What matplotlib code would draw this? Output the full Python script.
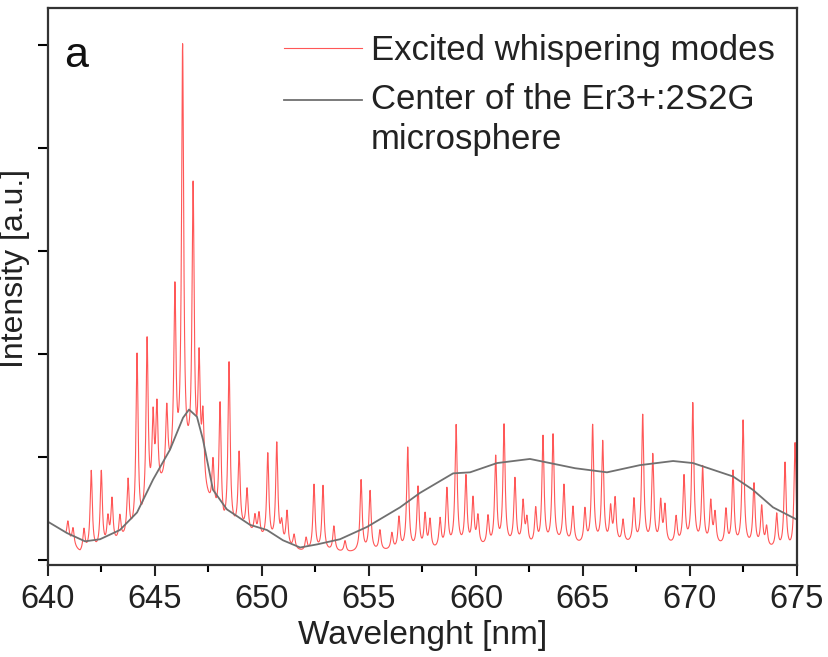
import numpy as np
import matplotlib
matplotlib.use("Agg")
import matplotlib.pyplot as plt
from matplotlib.legend_handler import HandlerLine2D

plt.rcParams['font.family'] = ['Liberation Sans', 'DejaVu Sans']

# ---- data ----
# Sharp whispering-gallery-mode peaks: wavelength [nm] and peak intensity [a.u.]
peak_wl = [640.93, 641.17, 641.68, 642.02, 642.49, 642.80, 642.99, 643.36, 643.74,
           644.16, 644.63, 644.91, 645.09, 645.55, 645.93, 646.29, 646.78, 647.06, 647.24,
           647.71, 648.04, 648.46, 648.93, 649.30, 649.67, 649.86, 650.27, 650.69, 650.92,
           651.17, 651.50, 652.06, 652.43, 652.85, 653.36, 653.88, 654.63, 655.05, 655.51,
           656.07, 656.40, 656.81, 657.29, 657.62, 657.85, 658.32, 658.64, 659.07, 659.53,
           659.86, 660.09, 660.56, 660.92, 661.31, 661.82, 662.20, 662.38, 662.79, 663.13,
           663.60, 664.11, 664.53, 665.09, 665.45, 665.92, 666.29, 666.50, 666.87, 667.38,
           667.79, 668.26, 668.63, 668.83, 669.35, 669.72, 670.13, 670.59, 670.97, 671.17,
           671.68, 672.01, 672.48, 672.99, 673.35, 673.58, 674.05, 674.44, 674.91]
peak_int = [0.36, 0.29, 0.27, 0.84, 0.83, 0.36, 0.55, 0.39, 0.73,
            1.95, 2.07, 1.29, 1.41, 1.41, 2.54, 4.90, 3.54, 1.83, 1.29,
            0.90, 1.46, 1.87, 1.00, 0.65, 0.39, 0.41, 1.00, 1.10, 0.31,
            0.44, 0.22, 0.19, 0.71, 0.70, 0.31, 0.17, 0.76, 0.65, 0.27,
            0.24, 0.39, 1.07, 0.68, 0.41, 0.36, 0.37, 0.66, 1.28, 0.78,
            0.56, 0.39, 0.39, 0.97, 1.28, 0.76, 0.53, 0.36, 0.46, 1.17,
            1.19, 0.70, 0.49, 0.46, 1.28, 1.12, 0.47, 0.56, 0.36, 0.56,
            1.38, 0.99, 0.53, 0.49, 0.39, 0.78, 1.49, 0.87, 0.53, 0.42,
            0.46, 0.83, 1.33, 0.71, 0.49, 0.29, 0.42, 0.92, 1.12]
# Background level between the modes (red curve troughs)
base_wl = [640.85, 641.5, 642.5, 643.5, 644.3, 645.0, 645.4, 645.8, 646.6, 647.2, 647.6,
           648.2, 648.6, 649.2, 649.9, 651.0, 652.0, 653.0, 654.0, 655.0, 656.0, 657.0,
           658.0, 659.0, 660.0, 661.0, 662.0, 663.0, 664.0, 665.0, 666.0, 667.0, 668.0,
           669.0, 670.0, 671.0, 672.0, 673.0, 674.0, 675.0]
base_int = [0.20, 0.05, 0.07, 0.17, 0.26, 0.55, 0.71, 0.82, 0.88, 0.68, 0.47,
            0.24, 0.26, 0.26, 0.18, 0.11, 0.06, 0.07, 0.06, 0.07, 0.08, 0.08,
            0.08, 0.11, 0.11, 0.11, 0.13, 0.11, 0.15, 0.13, 0.13, 0.14, 0.13,
            0.13, 0.13, 0.13, 0.11, 0.11, 0.09, 0.06]
# Spectrum from the centre of the microsphere (grey curve)
center_wl = [640.00, 640.89, 641.73, 642.43, 643.36, 644.16, 644.91, 645.70, 646.31, 646.59,
             646.96, 647.24, 647.71, 648.36, 649.44, 650.23, 650.98, 651.78, 652.57, 653.64,
             654.91, 656.45, 657.38, 658.93, 659.72, 660.98, 662.52, 663.46, 664.63, 666.12,
             667.66, 669.21, 670.14, 672.01, 672.94, 673.88, 675.00]
center_int = [0.37, 0.26, 0.18, 0.20, 0.29, 0.46, 0.78, 1.07, 1.38, 1.46,
              1.39, 1.17, 0.68, 0.49, 0.34, 0.29, 0.19, 0.12, 0.15, 0.20,
              0.32, 0.51, 0.65, 0.84, 0.85, 0.94, 0.98, 0.94, 0.89, 0.85,
              0.92, 0.96, 0.94, 0.81, 0.68, 0.51, 0.39]

x_ticks = [640, 645, 650, 655, 660, 665, 670, 675]
label_modes = "Excited whispering modes"
label_center = "Center of the Er3+:2S2G\nmicrosphere"

# ---- build the mode spectrum from the read peaks ----
wl = np.arange(640.85, 675.0, 0.004)
base = np.interp(wl, base_wl, base_int)
spec = base.copy()
gam = 0.06
for p, h in zip(peak_wl, peak_int):
    a = max(h - np.interp(p, base_wl, base_int), 0.0)
    spec += a * gam**2 / ((wl - p)**2 + gam**2)


class FirstLineHandler(HandlerLine2D):
    """Place the legend line level with the first line of a two-line label."""
    def __init__(self, shift, **kw):
        super().__init__(**kw)
        self.shift = shift

    def create_artists(self, legend, orig_handle, xdescent, ydescent, width,
                       height, fontsize, trans):
        arts = super().create_artists(legend, orig_handle, xdescent, ydescent,
                                      width, height, fontsize, trans)
        for a in arts:
            y = np.asarray(a.get_ydata(), dtype=float)
            a.set_ydata(y + self.shift)
        return arts


W, H = 829, 657
fig = plt.figure(figsize=(W/100, H/100), dpi=100)
ax = fig.add_axes([48/W, 1-565/H, (797-48)/W, (565-8)/H])

l1, = ax.plot(wl, spec, color='#ff3a3a', lw=0.8, alpha=0.85, label=label_modes)
l2, = ax.plot(center_wl, center_int, color='#707070', lw=1.3, label=label_center)

ax.set_xlim(640, 675)
ax.set_ylim(-0.05, 5.36)
ax.set_xticks(x_ticks)
ax.set_xticks(np.arange(642.5, 675, 5), minor=True)
ax.set_yticks(np.arange(0, 6, 1))
ax.set_yticklabels([])
ax.tick_params(axis='x', which='major', direction='out', length=8, width=1.5,
               labelsize=23.5, pad=6, colors='#222222')
ax.tick_params(axis='x', which='minor', direction='out', length=5, width=1.5)
ax.tick_params(axis='y', which='major', direction='out', length=7, width=1.5)
for s in ax.spines.values():
    s.set_linewidth(1.6)
    s.set_color('#333333')

ax.set_xlabel("Wavelenght [nm]", fontsize=24, labelpad=3, color='#222222')
ax.set_ylabel("Intensity [a.u.]", fontsize=23, color='#222222')
ax.yaxis.set_label_coords((30-48)/749, 1-(268-8)/557)

ax.text((64-48)/749, 1-(56-8)/557, "a", transform=ax.transAxes,
        fontsize=31, va='center', ha='left', color='#111111')

leg = ax.legend(handles=[l1, l2], loc='upper left',
                bbox_to_anchor=((284-48)/749, 1-(34-8)/557),
                frameon=False, fontsize=25, handlelength=2.25, handletextpad=0.26,
                labelspacing=0.45, borderaxespad=0, borderpad=0,
                handler_map={l2: FirstLineHandler(shift=14.5)})
for t in leg.get_texts():
    t.set_color('#222222')
    t.set_linespacing(1.28)

fig.savefig("out.png", dpi=100, facecolor='white')
